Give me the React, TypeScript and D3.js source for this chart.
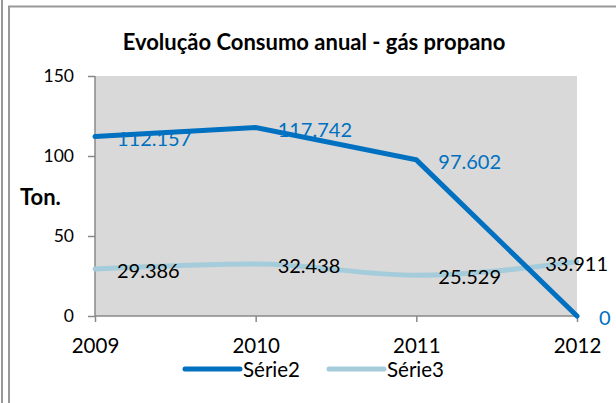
import React, { useEffect, useRef } from 'react';
import * as d3 from 'd3';

// chart values
const years = ['2009', '2010', '2011', '2012'];
const serie2 = [112.157, 117.742, 97.602, 0];
const serie3 = [29.386, 32.438, 25.529, 33.911];
const yTicks = [0, 50, 100, 150];
const seriesNames = ['Série2', 'Série3'];

const W = 616;
const H = 403;
const FONT = 'Lato, "Open Sans", sans-serif';
const BLUE = '#0070C0';
const LIGHT = '#A5CCDB';

const App = () => {
  const ref = useRef<SVGSVGElement>(null);

  useEffect(() => {
    const svg = d3.select(ref.current);
    svg.selectAll('*').remove();

    // outer frames
    svg.append('line').attr('x1', 2).attr('x2', 2).attr('y1', 0).attr('y2', H)
      .attr('stroke', '#999').attr('stroke-width', 2);
    svg.append('path').attr('d', `M9,${H} V6.5 H${W}`)
      .attr('fill', 'none').attr('stroke', '#999').attr('stroke-width', 2);

    const margin = { left: 95, right: 39, top: 76, bottom: 87 };
    const x = d3.scalePoint<string>().domain(years).range([margin.left, W - margin.right]);
    const y = d3.scaleLinear().domain([0, 150]).range([H - margin.bottom, margin.top]);

    // plot area
    svg.append('rect')
      .attr('x', margin.left).attr('y', margin.top)
      .attr('width', W - margin.right - margin.left)
      .attr('height', H - margin.bottom - margin.top)
      .attr('fill', '#D9D9D9');

    // title
    svg.append('text').attr('x', 314).attr('y', 50).attr('text-anchor', 'middle')
      .attr('font-family', FONT).attr('font-weight', 'bold').attr('font-size', 22)
      .text('Evolução Consumo anual - gás propano');

    svg.append('text').attr('x', 20).attr('y', 205)
      .attr('font-family', FONT).attr('font-weight', 'bold').attr('font-size', 22)
      .text('Ton.');

    // axes
    const yAxis = svg.append('g').attr('transform', `translate(${margin.left},0)`)
      .call(d3.axisLeft(y).tickValues(yTicks).tickSize(7).tickPadding(14));
    const xAxis = svg.append('g').attr('transform', `translate(0,${H - margin.bottom})`)
      .call(d3.axisBottom(x).tickSize(6).tickPadding(16));
    [yAxis, xAxis].forEach(g => {
      g.select('.domain').attr('stroke', '#888').attr('stroke-width', 1.5);
      g.selectAll('.tick line').attr('stroke', '#888').attr('stroke-width', 1.5);
      g.selectAll('.tick text').attr('font-family', FONT).attr('fill', '#000');
    });
    yAxis.selectAll('.tick text').attr('font-size', 17.5);
    xAxis.selectAll('.tick text').attr('font-size', 20.5);
    xAxis.select('.domain').attr('d', `M${margin.left},0H${W - margin.right}`);
    yAxis.select('.domain').attr('d', `M0,${y(0)}V${y(150)}`);

    // lines
    const line2 = d3.line<number>().x((d, i) => x(years[i])!).y(d => y(d));
    const line3 = d3.line<number>().x((d, i) => x(years[i])!).y(d => y(d)).curve(d3.curveMonotoneX);

    svg.append('path').datum(serie3).attr('d', line3).attr('fill', 'none')
      .attr('stroke', LIGHT).attr('stroke-width', 5).attr('stroke-linecap', 'round');
    svg.append('path').datum(serie2).attr('d', line2).attr('fill', 'none')
      .attr('stroke', BLUE).attr('stroke-width', 5).attr('stroke-linecap', 'round');

    const fmt = (v: number) => (v === 0 ? '0' : v.toFixed(3));

    // data labels, to the right of each point
    svg.append('g').selectAll('text').data(serie2).enter().append('text')
      .attr('x', (d, i) => x(years[i])! + 22)
      .attr('y', d => y(d) + 9)
      .attr('font-family', FONT).attr('font-size', 20).attr('fill', BLUE)
      .text(fmt);

    svg.append('g').selectAll('text').data(serie3).enter().append('text')
      .attr('x', (d, i) => (i === serie3.length - 1 ? x(years[i])! + 31 : x(years[i])! + 22))
      .attr('text-anchor', (d, i) => (i === serie3.length - 1 ? 'end' : 'start'))
      .attr('y', d => y(d) + 9)
      .attr('font-family', FONT).attr('font-size', 20).attr('fill', '#000')
      .text(fmt);

    // legend
    const legend = svg.append('g');
    const lx = [185, 329];
    seriesNames.forEach((name, i) => {
      legend.append('line').attr('x1', lx[i]).attr('x2', lx[i] + 55).attr('y1', 369).attr('y2', 369)
        .attr('stroke', i === 0 ? BLUE : LIGHT).attr('stroke-width', 5).attr('stroke-linecap', 'round');
      legend.append('text').attr('x', lx[i] + 58).attr('y', 377)
        .attr('font-family', FONT).attr('font-size', 20.5).attr('fill', '#000')
        .text(name);
    });
  }, []);

  return (
    <svg ref={ref} width={W} height={H}
      style={{ position: 'absolute', left: 0, top: 0, background: '#fff' }} />
  );
};

export default App;
